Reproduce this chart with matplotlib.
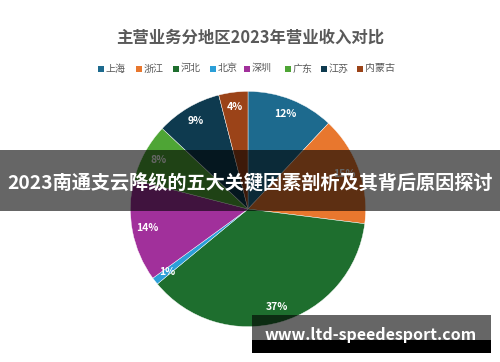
import matplotlib.pyplot as plt
from matplotlib.patches import Rectangle

plt.rcParams['font.family'] = ['Noto Sans CJK SC', 'DejaVu Sans']

regions = ['上海', '浙江', '河北', '北京', '深圳', '广东', '江苏', '内蒙古']
shares = [12, 15, 37, 1, 14, 8, 9, 4]
colors = ['#1d6a8e', '#e8772e', '#1e6e2e', '#2b9fd8', '#a1309b', '#4ea535', '#0e3a4f', '#9b4318']

title = '主营业务分地区2023年营业收入对比'
banner = '2023南通支云降级的五大关键因素剖析及其背后原因探讨'
site = 'www.ltd-speedesport.com'

W, H = 500, 362
fig = plt.figure(figsize=(W / 100, H / 100), dpi=100)
fig.patch.set_facecolor('white')

# pie axes: centre (248, 209) px, radius ~120 px
ax = fig.add_axes([128 / W, 1 - 329 / H, 240 / W, 240 / H])
wedges, texts, autotexts = ax.pie(
    shares, colors=colors, startangle=90, counterclock=False,
    autopct='%d%%', pctdistance=0.87, radius=1,
    wedgeprops=dict(edgecolor='white', linewidth=0.3),
    textprops=dict(color='white', fontsize=7.5, fontweight='bold'))
ax.set_xlim(-1.02, 1.02)
ax.set_ylim(-1.02, 1.02)
ax.axis('off')

fig.text(250 / W, 1 - 38 / H, title, ha='center', va='center',
         fontsize=11.8, fontweight='bold', color='#595959')

# legend row
lx = [98, 136, 173, 210, 244, 285, 321, 357]
for x, name, c in zip(lx, regions, colors):
    fig.patches.append(Rectangle((x / W, 1 - 71.5 / H), 6 / W, 6 / H,
                                 transform=fig.transFigure, facecolor=c))
    fig.text((x + 7.5) / W, 1 - 68.5 / H, name, ha='left', va='center',
             fontsize=7.2, color='#595959')

# dark banner across the middle
fig.patches.append(Rectangle((0, 1 - 211 / H), 1, 61 / H, transform=fig.transFigure,
                             facecolor='black', alpha=0.6, zorder=5))
fig.text(250 / W, 1 - 184 / H, banner, ha='center', va='center',
         fontsize=13.8, fontweight='bold', color='white', zorder=6)

# watermark box
fig.patches.append(Rectangle((252 / W, 1 - 340 / H), 239 / W, 25 / H,
                             transform=fig.transFigure, facecolor='black', alpha=0.6, zorder=5))
fig.patches.append(Rectangle((252 / W, 1 - 353 / H), 239 / W, 13 / H,
                             transform=fig.transFigure, facecolor='black', zorder=5))
fig.text(371 / W, 1 - 335 / H, site, ha='center', va='center',
         fontsize=11.5, fontweight='bold', color='white', zorder=6)

fig.savefig('out.png', dpi=100)
